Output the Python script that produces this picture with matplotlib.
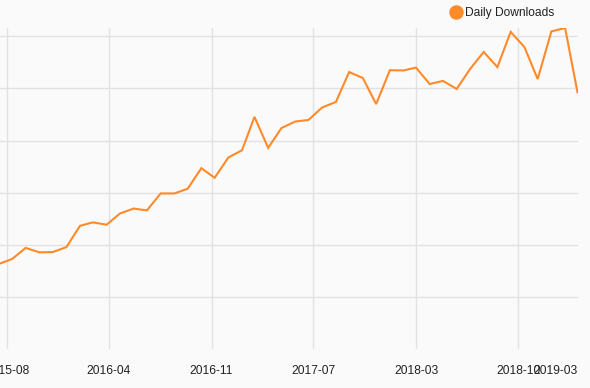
import pandas as pd
import matplotlib.pyplot as plt
import matplotlib.dates as mdates
from matplotlib.lines import Line2D

# monthly daily-download values
months = pd.date_range("2015-08-01", "2019-03-01", freq="MS")
downloads = [326, 346, 388, 371, 372, 391, 473, 486, 477, 520, 539, 532,
             597, 597, 615, 694, 657, 735, 763, 891, 772, 848, 873, 879,
             927, 948, 1063, 1040, 940, 1070, 1069, 1080, 1017, 1029, 998, 1074,
             1140, 1082, 1217, 1159, 1036, 1219, 1232, 985]

# x grid / label positions (axis splits roughly every 231 days)
tick_dates = pd.to_datetime(["2015-08-20", "2016-04-06", "2016-11-24",
                             "2017-07-12", "2018-03-02", "2018-10-18"])
last_label = "2019-03"
y_grid = [200, 400, 600, 800, 1000, 1200]

line_color = "#ff8a2a"
bg = "#fafafa"
grid_color = "#e2e2e2"
text_color = "#222222"

plt.rcParams['font.family'] = ['Liberation Sans', 'DejaVu Sans']

fig = plt.figure(figsize=(5.9, 3.88), dpi=100, facecolor=bg)
ax = fig.add_axes([0, 1 - 349 / 388, 577.5 / 590, (349 - 28) / 388])
ax.set_facecolor(bg)

ax.plot(months, downloads, color=line_color, linewidth=1.5, solid_joinstyle='miter')

ax.set_xlim(pd.Timestamp("2015-08-04"), months[-1])
ax.set_ylim(0, 1232)

ax.set_xticks(tick_dates)
ax.xaxis.set_major_formatter(mdates.DateFormatter("%Y-%m"))
ax.set_yticks(y_grid)
ax.set_yticklabels([])
ax.tick_params(axis='both', length=0)
ax.tick_params(axis='x', pad=11.5, labelsize=8.64, labelcolor=text_color)
ax.grid(True, color=grid_color, linewidth=1)
ax.set_axisbelow(True)
for s in ax.spines.values():
    s.set_visible(False)

# last label sits at the right end, pulled inside the picture
ax.annotate(last_label, xy=(months[-1], 0), xycoords=('data', 'axes fraction'),
            xytext=(0, -11.5), textcoords='offset points',
            ha='right', va='top', fontsize=8.64, color=text_color)

handle = Line2D([], [], marker='o', linestyle='None', color=line_color,
                markersize=9.4)
ax.legend(handles=[handle], labels=["Daily Downloads"], loc='center left',
          bbox_to_anchor=(444.5 / 590, 1 - 13 / 388), bbox_transform=fig.transFigure,
          frameon=False, borderpad=0, handlelength=1.0, handletextpad=0.25,
          fontsize=8.64, labelcolor=text_color)

fig.savefig("out.png", dpi=100, facecolor=bg)
